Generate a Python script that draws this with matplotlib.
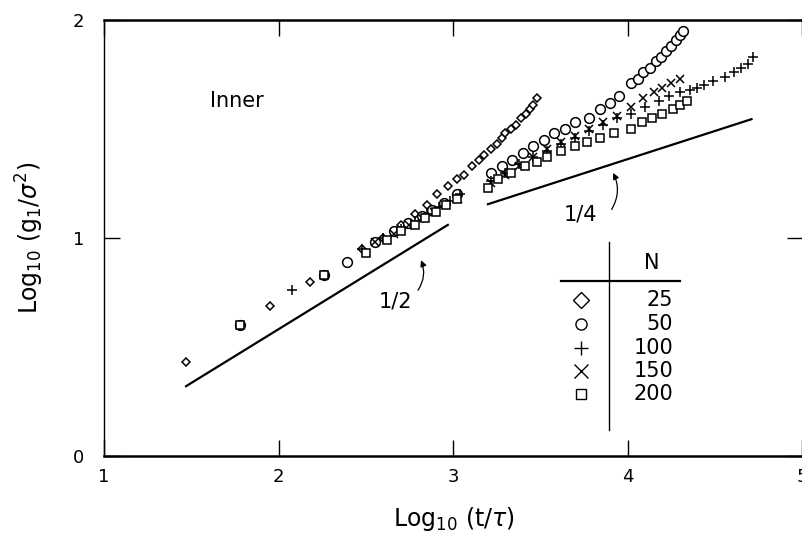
import matplotlib
matplotlib.use("Agg")
import matplotlib.pyplot as plt

plt.rcParams['font.family'] = ['DejaVu Sans']
plt.rcParams['mathtext.fontset'] = 'dejavusans'

# ---- data ----
x25 = [1.47, 1.78, 1.95, 2.18, 2.39, 2.48, 2.60, 2.70, 2.78, 2.85, 2.91, 2.97, 3.02, 3.06,
       3.11, 3.15, 3.18, 3.22, 3.25, 3.28, 3.30, 3.33, 3.36, 3.39, 3.42, 3.44, 3.46, 3.48]
y25 = [0.43, 0.60, 0.69, 0.80, 0.89, 0.95, 1.00, 1.06, 1.11, 1.15, 1.20, 1.24, 1.27, 1.29,
       1.33, 1.36, 1.38, 1.41, 1.43, 1.46, 1.48, 1.50, 1.52, 1.55, 1.57, 1.59, 1.61, 1.64]

x50 = [1.78, 2.26, 2.39, 2.55, 2.66, 2.74, 2.82, 2.88, 2.95, 3.02, 3.22, 3.28, 3.34, 3.40,
       3.46, 3.52, 3.58, 3.64, 3.70, 3.78, 3.84, 3.90, 3.95, 4.02, 4.06, 4.09, 4.13, 4.16,
       4.19, 4.22, 4.25, 4.28, 4.30, 4.32]
y50 = [0.60, 0.83, 0.89, 0.98, 1.03, 1.07, 1.10, 1.13, 1.16, 1.20, 1.30, 1.33, 1.36, 1.39,
       1.42, 1.45, 1.48, 1.50, 1.53, 1.55, 1.59, 1.62, 1.65, 1.71, 1.73, 1.76, 1.78, 1.81,
       1.83, 1.86, 1.88, 1.91, 1.93, 1.95]

x100 = [1.78, 2.08, 2.26, 2.48, 2.60, 2.70, 2.78, 2.85, 2.92, 2.98, 3.04, 3.22, 3.30, 3.38,
        3.46, 3.54, 3.62, 3.70, 3.78, 3.86, 3.94, 4.02, 4.10, 4.18, 4.24, 4.30, 4.36, 4.40,
        4.44, 4.49, 4.56, 4.61, 4.65, 4.69, 4.72]
y100 = [0.60, 0.76, 0.83, 0.95, 1.00, 1.04, 1.08, 1.11, 1.14, 1.17, 1.20, 1.26, 1.30, 1.34,
        1.37, 1.40, 1.43, 1.46, 1.49, 1.52, 1.55, 1.57, 1.60, 1.63, 1.65, 1.67, 1.68, 1.69,
        1.70, 1.72, 1.74, 1.76, 1.78, 1.80, 1.83]

x150 = [1.78, 2.26, 2.55, 2.66, 2.75, 2.82, 2.89, 2.96, 3.03, 3.22, 3.30, 3.38, 3.46, 3.54,
        3.62, 3.70, 3.78, 3.86, 3.94, 4.02, 4.09, 4.15, 4.20, 4.25, 4.30]
y150 = [0.60, 0.83, 0.98, 1.02, 1.06, 1.09, 1.12, 1.15, 1.18, 1.25, 1.29, 1.33, 1.37, 1.41,
        1.44, 1.47, 1.50, 1.53, 1.56, 1.60, 1.64, 1.67, 1.69, 1.71, 1.73]

x200 = [1.78, 2.26, 2.50, 2.62, 2.70, 2.78, 2.84, 2.90, 2.96, 3.02, 3.20, 3.26, 3.33, 3.41,
        3.48, 3.54, 3.62, 3.70, 3.77, 3.84, 3.92, 4.02, 4.08, 4.14, 4.20, 4.26, 4.30, 4.34]
y200 = [0.60, 0.83, 0.93, 0.99, 1.03, 1.06, 1.09, 1.12, 1.15, 1.18, 1.23, 1.27, 1.30, 1.33,
        1.35, 1.37, 1.40, 1.42, 1.44, 1.46, 1.48, 1.50, 1.53, 1.55, 1.57, 1.59, 1.61, 1.63]

# reference slope lines
half_x = [1.47, 2.97]
half_y = [0.32, 1.06]
quarter_x = [3.20, 4.71]
quarter_y = [1.155, 1.545]

N_labels = ['25', '50', '100', '150', '200']
markers = ['D', 'o', '+', 'x', 's']
msizes = [4.5, 7, 7, 6, 5.5]

fig = plt.figure(figsize=(8.03, 5.33), dpi=100)
ax = fig.add_axes([0.1295, 0.1445, 0.8705, 0.818])

series = [(x25, y25), (x50, y50), (x100, y100), (x150, y150), (x200, y200)]
for (xs, ys), m, s in zip(series, markers, msizes):
    if m in ('+', 'x'):
        ax.plot(xs, ys, linestyle='none', marker=m, ms=s, mec='black', mew=1.1)
    else:
        ax.plot(xs, ys, linestyle='none', marker=m, ms=s, mfc='white', mec='black', mew=1.1)

ax.plot(half_x, half_y, color='black', lw=1.6)
ax.plot(quarter_x, quarter_y, color='black', lw=1.6)

ax.annotate('', xy=(2.81, 0.91), xytext=(2.79, 0.75),
            arrowprops=dict(arrowstyle='-|>', color='black', lw=0.9, mutation_scale=9,
                            connectionstyle='arc3,rad=0.3'))
ax.text(2.67, 0.71, '1/2', fontsize=15, ha='center', va='center')
ax.annotate('', xy=(3.91, 1.31), xytext=(3.90, 1.12),
            arrowprops=dict(arrowstyle='-|>', color='black', lw=0.9, mutation_scale=9,
                            connectionstyle='arc3,rad=0.3'))
ax.text(3.73, 1.11, '1/4', fontsize=15, ha='center', va='center')
ax.text(1.76, 1.63, 'Inner', fontsize=15, ha='center', va='center')

# legend table (axes coords)
tr = ax.transAxes
ax.plot([0.723, 0.723], [0.491, 0.060], color='black', lw=1.0, transform=tr)
ax.plot([0.654, 0.824], [0.401, 0.401], color='black', lw=1.6, transform=tr)
ax.text(0.783, 0.443, 'N', fontsize=15, ha='center', va='center', transform=tr)
row_y = [0.358, 0.303, 0.248, 0.195, 0.142]
for lab, m, s, ry in zip(N_labels, markers, msizes, row_y):
    if m in ('+', 'x'):
        ax.plot([0.683], [ry], marker=m, ms=10, mec='black', mew=1.0, transform=tr,
                linestyle='none')
    else:
        ax.plot([0.683], [ry], marker=m, ms=8 if m != 's' else 6.5, mfc='white',
                mec='black', mew=1.0, transform=tr, linestyle='none')
    ax.text(0.814, ry, lab, fontsize=15, ha='right', va='center', transform=tr)

ax.set_xlim(1, 5.005)
ax.set_ylim(0, 2)
ax.set_xticks([1, 2, 3, 4, 5])
ax.set_yticks([0, 1, 2])
ax.tick_params(axis='both', direction='in', length=11.5, width=1.0, labelsize=13,
               top=True, right=True)
ax.tick_params(axis='x', pad=9)
ax.tick_params(axis='y', pad=14)
for side in ['top', 'bottom']:
    ax.spines[side].set_linewidth(1.8)
ax.spines['left'].set_linewidth(1.0)
ax.spines['right'].set_visible(False)

ax.set_xlabel(r'Log$_{10}$ (t/$\tau$)', fontsize=17)
ax.xaxis.set_label_coords(0.5, -0.112)
ax.set_ylabel(r'Log$_{10}$ (g$_1$/$\sigma^2$)', fontsize=17)
ax.yaxis.set_label_coords(-0.083, 0.5)

fig.savefig('out.png', dpi=100)
